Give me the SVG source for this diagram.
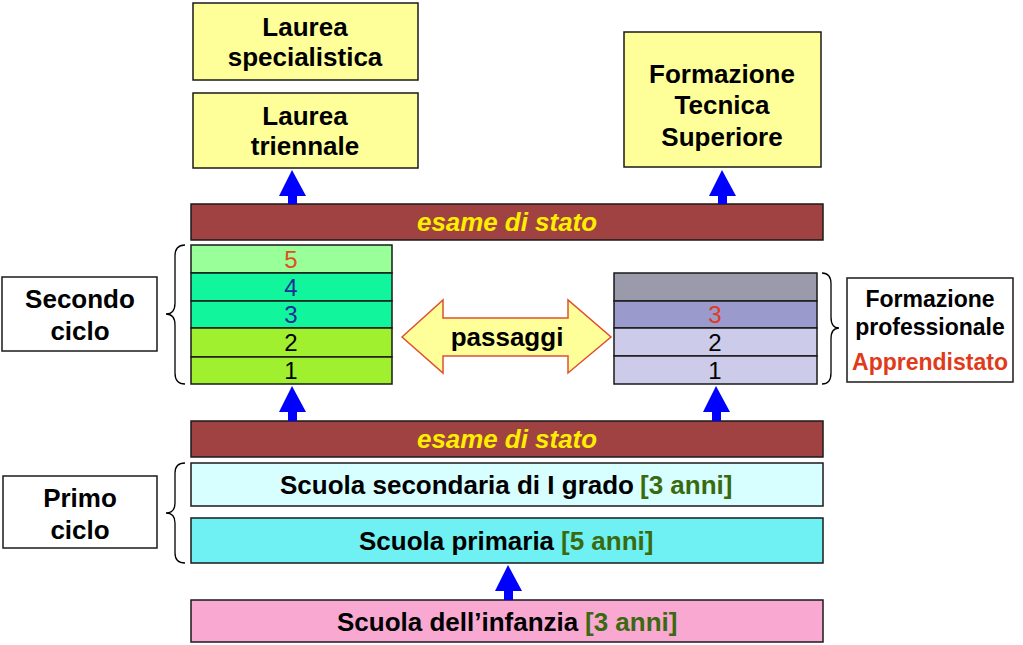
<svg xmlns="http://www.w3.org/2000/svg" width="1023" height="645" viewBox="0 0 1023 645">
<defs>
<style>
.box{stroke:#1a1a1a;stroke-width:1.5}
.t{font-family:"Liberation Sans",Arial,sans-serif;font-weight:bold;font-size:26px;text-anchor:middle;fill:#000}
.s{font-family:"Liberation Sans",Arial,sans-serif;font-weight:bold;font-size:26px;text-anchor:start;fill:#000}
.n{font-family:"Liberation Sans",Arial,sans-serif;font-size:24px;text-anchor:middle}
.ex{font-family:"Liberation Sans",Arial,sans-serif;font-weight:bold;font-style:italic;font-size:25px;text-anchor:middle;fill:#ffee00}
.fp{font-family:"Liberation Sans",Arial,sans-serif;font-weight:bold;font-size:23px;text-anchor:middle}
.g{fill:#3a6a10}
.bar{fill:#a04242}
.up{fill:#0000ff}
.brace{fill:none;stroke:#000;stroke-width:1.3}
</style>
</defs>
<rect width="1023" height="645" fill="#fff"/>

<g id="laurea-specialistica">
<rect class="box" x="193" y="3" width="225" height="77" fill="#ffff99"/>
<text class="t" x="305" y="36">Laurea</text>
<text class="t" x="305" y="66">specialistica</text>
</g>
<g id="laurea-triennale">
<rect class="box" x="193" y="93" width="225" height="75" fill="#ffff99"/>
<text class="t" x="305" y="125">Laurea</text>
<text class="t" x="305" y="155">triennale</text>
</g>
<g id="formazione-tecnica-superiore">
<rect class="box" x="624" y="32" width="197" height="135" fill="#ffff99"/>
<text class="t" x="722" y="83">Formazione</text>
<text class="t" x="722" y="114">Tecnica</text>
<text class="t" x="722" y="146">Superiore</text>
</g>
<g id="esame-1">
<rect class="box bar" x="191" y="204" width="632" height="36"/>
<text class="ex" x="507" y="231" textLength="180" lengthAdjust="spacingAndGlyphs">esame di stato</text>
</g>
<g id="secondo-ciclo-stack">
<rect class="box" x="191" y="245" width="201" height="28" fill="#99ff99"/>
<rect class="box" x="191" y="273" width="201" height="28" fill="#11f59c"/>
<rect class="box" x="191" y="301" width="201" height="27" fill="#11f59c"/>
<rect class="box" x="191" y="328" width="201" height="29" fill="#a0f030"/>
<rect class="box" x="191" y="357" width="201" height="27" fill="#a0f030"/>
<text class="n" x="291" y="268" fill="#e0501a">5</text>
<text class="n" x="291" y="296" fill="#1a2f99">4</text>
<text class="n" x="291" y="323" fill="#1a2f99">3</text>
<text class="n" x="291" y="351" fill="#000">2</text>
<text class="n" x="291" y="379" fill="#000">1</text>
</g>
<g id="formazione-stack">
<rect class="box" x="614" y="273" width="203" height="28" fill="#9a9aaa"/>
<rect class="box" x="614" y="301" width="203" height="27" fill="#9a9acc"/>
<rect class="box" x="614" y="328" width="203" height="28" fill="#ccccea"/>
<rect class="box" x="614" y="356" width="203" height="28" fill="#ccccea"/>
<text class="n" x="715" y="323" fill="#e03a20">3</text>
<text class="n" x="715" y="351" fill="#000">2</text>
<text class="n" x="715" y="379" fill="#000">1</text>
</g>
<g id="passaggi">
<polygon points="402,337 443,300 443,318 568,318 568,300 611,337 568,373 568,356 443,356 443,373" fill="#ffff99" stroke="#e05030" stroke-width="1.5"/>
<text class="t" x="507" y="346">passaggi</text>
</g>
<g id="secondo-ciclo">
<rect class="box" x="2" y="277" width="155" height="74" fill="#fff"/>
<text class="t" x="80" y="308">Secondo</text>
<text class="t" x="80" y="340">ciclo</text>
</g>
<g id="formazione-professionale">
<rect class="box" x="847" y="278" width="166" height="104" fill="#fff"/>
<text class="fp" x="930" y="307" fill="#000">Formazione</text>
<text class="fp" x="930" y="335" fill="#000">professionale</text>
<text class="fp" x="930" y="370" fill="#e03a1a">Apprendistato</text>
</g>
<g id="esame-2">
<rect class="box bar" x="191" y="421" width="632" height="36"/>
<text class="ex" x="507" y="448" textLength="180" lengthAdjust="spacingAndGlyphs">esame di stato</text>
</g>
<g id="scuola-secondaria">
<rect class="box" x="191" y="463" width="632" height="43" fill="#d8ffff"/>
<text class="s" x="280" y="494">Scuola secondaria di I grado</text>
<text class="s g" x="640" y="494">[3 anni]</text>
</g>
<g id="scuola-primaria">
<rect class="box" x="191" y="518" width="632" height="45" fill="#6ff0f2"/>
<text class="s" x="359" y="550">Scuola primaria</text>
<text class="s g" x="561" y="550">[5 anni]</text>
</g>
<g id="primo-ciclo">
<rect class="box" x="3" y="476" width="154" height="72" fill="#fff"/>
<text class="t" x="80" y="507">Primo</text>
<text class="t" x="80" y="539">ciclo</text>
</g>
<g id="scuola-infanzia">
<rect class="box" x="191" y="600" width="632" height="42" fill="#f9a8d2"/>
<text class="s" x="337" y="631">Scuola dell’infanzia</text>
<text class="s g" x="585" y="631">[3 anni]</text>
</g>
<g id="connectors">
<polygon class="up" points="292,170 306,196 297,196 297,204 288,204 288,196 279,196"/>
<polygon class="up" points="722,170 736,196 727,196 727,204 718,204 718,196 709,196"/>
<polygon class="up" points="292,386 306,412 297,412 297,421 288,421 288,412 279,412"/>
<polygon class="up" points="716,386 730,412 721,412 721,421 712,421 712,412 703,412"/>
<polygon class="up" points="508,565 522,591 513,591 513,600 504,600 504,591 495,591"/>
<path class="brace" d="M185,245 Q175,245 175,256 L175,303 Q175,314 166,314 Q175,314 175,325 L175,373 Q175,384 185,384"/>
<path class="brace" d="M185,463 Q175,463 175,473 L175,503 Q175,513 166,513 Q175,513 175,523 L175,553 Q175,563 185,563"/>
<path class="brace" d="M822,273 Q831,273 831,284 L831,317 Q831,328 839,328 Q831,328 831,339 L831,373 Q831,384 822,384"/>
</g>
</svg>
